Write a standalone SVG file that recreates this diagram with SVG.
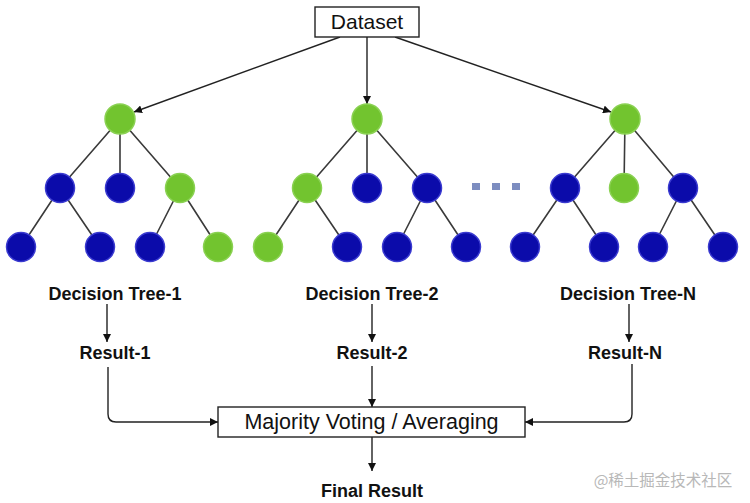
<svg xmlns="http://www.w3.org/2000/svg" width="750" height="503" viewBox="0 0 750 503">
<style>
.g{fill:#72c42f;stroke:#8ad152;stroke-width:1.5}
.b{fill:#0b0baa;stroke:#3a3ad0;stroke-width:1.5}
.e{stroke:#3a3a3a;stroke-width:1.6;fill:none}
.c{stroke:#222;stroke-width:1.4;fill:none}
.box{fill:#fff;stroke:#222;stroke-width:1.4}
.lb{font-family:"Liberation Sans",Arial,sans-serif;font-weight:bold;font-size:18px;fill:#111;text-anchor:middle}
.lr{font-family:"Liberation Sans",Arial,sans-serif;font-size:21.5px;fill:#111;text-anchor:middle}
.dot{fill:#7d8dc0}
</style>
<defs>
<marker id="ah" viewBox="0 0 10 10" refX="10" refY="5" markerWidth="8" markerHeight="8" markerUnits="userSpaceOnUse" orient="auto">
<path d="M0,0 L10,5 L0,10 z" fill="#111"/>
</marker>
</defs>
<g id="connectors">
<!-- tree 1 edges -->
<path class="e" d="M120,119 L60,188 M120,119 L120,188 M120,119 L180,188 M60,188 L21,247 M60,188 L100,247 M180,188 L150,247 M180,188 L218,247"/>
<!-- tree 2 edges -->
<path class="e" d="M367,119 L307,188 M367,119 L367,188 M367,119 L427,188 M307,188 L268,247 M307,188 L347,247 M427,188 L397,247 M427,188 L466,247"/>
<!-- tree N edges -->
<path class="e" d="M625,119 L565,188 M625,119 L624,188 M625,119 L683,188 M565,188 L525,247 M565,188 L604,247 M683,188 L653,247 M683,188 L723,247"/>
<!-- dataset to roots -->
<path class="c" d="M340,37 L134,112" marker-end="url(#ah)"/>
<path class="c" d="M367,37 L367,104" marker-end="url(#ah)"/>
<path class="c" d="M395,37 L611,112" marker-end="url(#ah)"/>
<!-- tree labels to results -->
<path class="c" d="M107,304 L107,342" marker-end="url(#ah)"/>
<path class="c" d="M372,304 L372,342" marker-end="url(#ah)"/>
<path class="c" d="M629,304 L629,342" marker-end="url(#ah)"/>
<!-- results to majority -->
<path class="c" d="M108,367 L108,414 Q108,422 116,422 L218,422" marker-end="url(#ah)"/>
<path class="c" d="M372,366 L372,407" marker-end="url(#ah)"/>
<path class="c" d="M632,364 L632,414 Q632,422 624,422 L525,422" marker-end="url(#ah)"/>
<!-- majority to final -->
<path class="c" d="M372,437 L372,471" marker-end="url(#ah)"/>
</g>
<g id="dataset">
<rect class="box" x="315" y="7" width="104" height="30"/>
<text class="lr" x="367" y="29" style="font-size:21px">Dataset</text>
</g>
<g id="tree1">
<circle class="g" cx="120" cy="119" r="15"/>
<circle class="b" cx="60" cy="188" r="14.5"/>
<circle class="b" cx="120" cy="188" r="14.5"/>
<circle class="g" cx="180" cy="188" r="14.5"/>
<circle class="b" cx="21" cy="247" r="14.5"/>
<circle class="b" cx="100" cy="247" r="14.5"/>
<circle class="b" cx="150" cy="247" r="14.5"/>
<circle class="g" cx="218" cy="247" r="14.5"/>
</g>
<g id="tree2">
<circle class="g" cx="367" cy="119" r="15"/>
<circle class="g" cx="307" cy="188" r="14.5"/>
<circle class="b" cx="367" cy="188" r="14.5"/>
<circle class="b" cx="427" cy="188" r="14.5"/>
<circle class="g" cx="268" cy="247" r="14.5"/>
<circle class="b" cx="347" cy="247" r="14.5"/>
<circle class="b" cx="397" cy="247" r="14.5"/>
<circle class="b" cx="466" cy="247" r="14.5"/>
</g>
<g id="ellipsis">
<rect class="dot" x="472" y="183" width="8" height="7"/>
<rect class="dot" x="492" y="183" width="8" height="7"/>
<rect class="dot" x="512" y="183" width="8" height="7"/>
</g>
<g id="treeN">
<circle class="g" cx="625" cy="119" r="15"/>
<circle class="b" cx="565" cy="188" r="14.5"/>
<circle class="g" cx="624" cy="188" r="14.5"/>
<circle class="b" cx="683" cy="188" r="14.5"/>
<circle class="b" cx="525" cy="247" r="14.5"/>
<circle class="b" cx="604" cy="247" r="14.5"/>
<circle class="b" cx="653" cy="247" r="14.5"/>
<circle class="b" cx="723" cy="247" r="14.5"/>
</g>
<g id="label-tree1"><text class="lb" x="115" y="300">Decision Tree-1</text></g>
<g id="label-tree2"><text class="lb" x="372" y="300">Decision Tree-2</text></g>
<g id="label-treeN"><text class="lb" x="628" y="300">Decision Tree-N</text></g>
<g id="result1"><text class="lb" x="115" y="359">Result-1</text></g>
<g id="result2"><text class="lb" x="372" y="359">Result-2</text></g>
<g id="resultN"><text class="lb" x="625" y="359">Result-N</text></g>
<g id="majority">
<rect class="box" x="218" y="407" width="307" height="30"/>
<text class="lr" x="371.5" y="429">Majority Voting / Averaging</text>
</g>
<g id="final"><text class="lb" x="372" y="497">Final Result</text></g>
<text x="663" y="486" style="font-family:'Noto Sans CJK SC','Noto Sans',sans-serif;font-size:15.5px;fill:#b8b8b8;text-anchor:middle">@稀土掘金技术社区</text>
</svg>
